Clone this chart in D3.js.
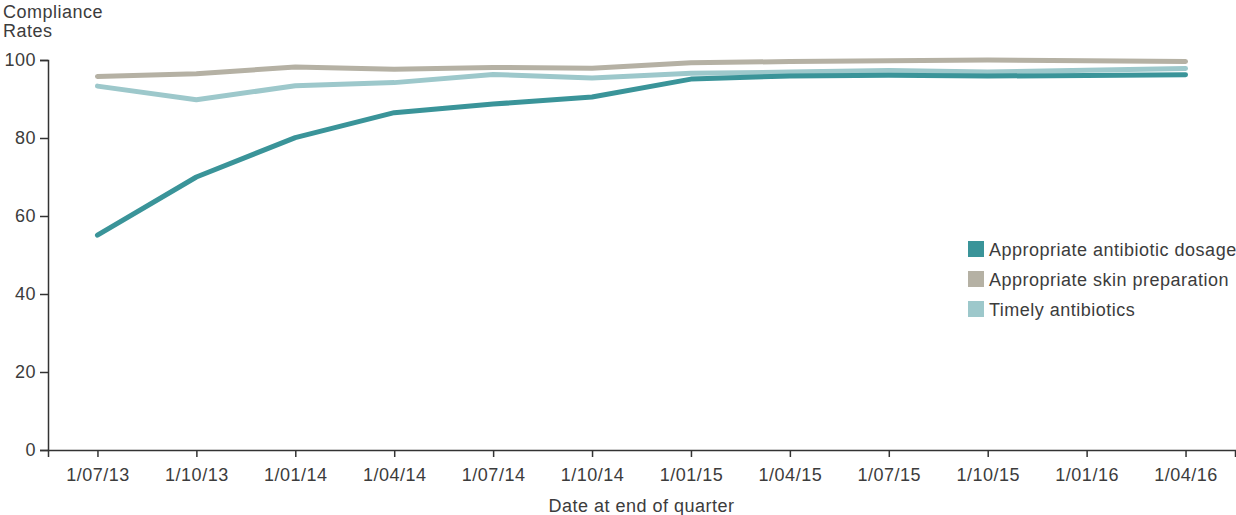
<!DOCTYPE html>
<html>
<head>
<meta charset="utf-8">
<script src="https://cdn.jsdelivr.net/npm/d3@7"></script>
<style>
  html, body { margin: 0; padding: 0; background: #fff; }
  svg { display: block; font-family: "Liberation Sans", Arial, Helvetica, sans-serif; }
  .axis text { fill: #3c3c3c; font-size: 18px; letter-spacing: 0.5px; }
  .axis path, .axis line { stroke: #333; stroke-width: 1.5px; }
  .label { fill: #3c3c3c; font-size: 18px; letter-spacing: 0.5px; }
</style>
</head>
<body>
<svg id="chart" width="1236" height="515"></svg>
<script>
// Quarter-end dates (x categories)
const quarters = ["1/07/13", "1/10/13", "1/01/14", "1/04/14", "1/07/14", "1/10/14",
                  "1/01/15", "1/04/15", "1/07/15", "1/10/15", "1/01/16", "1/04/16"];

// Compliance rates (%) per series
const antibioticDosage = [55.1, 70.0, 80.1, 86.5, 88.7, 90.5, 95.1, 95.9, 96.1, 95.9, 96.0, 96.2];
const skinPreparation  = [95.8, 96.5, 98.2, 97.6, 98.1, 97.9, 99.3, 99.6, 99.8, 100.0, 99.8, 99.6];
const timelyAntibiotics = [93.3, 89.8, 93.4, 94.2, 96.3, 95.4, 96.6, 96.9, 97.3, 96.9, 97.4, 97.8];

const seriesNames = ["Appropriate antibiotic dosage", "Appropriate skin preparation", "Timely antibiotics"];
const seriesColors = ["#3a9499", "#b5b1a4", "#9dc8cb"];
const yTicks = [0, 20, 40, 60, 80, 100];

const series = [
  { name: seriesNames[0], values: antibioticDosage, color: seriesColors[0] },
  { name: seriesNames[1], values: skinPreparation, color: seriesColors[1] },
  { name: seriesNames[2], values: timelyAntibiotics, color: seriesColors[2] }
];

const svg = d3.select("#chart");
const margin = { left: 48, right: 1, top: 60, bottom: 65 };
const W = 1236, H = 515;

const x = d3.scalePoint()
  .domain(quarters)
  .range([margin.left, W - margin.right])
  .padding(0.5);

const y = d3.scaleLinear()
  .domain([0, 100])
  .range([H - margin.bottom, margin.top]);

// Axes
const xAxis = svg.append("g")
  .attr("class", "axis")
  .attr("transform", `translate(0,${y(0)})`)
  .call(d3.axisBottom(x).tickSizeOuter(0).tickSize(7).tickPadding(11));

const yAxis = svg.append("g")
  .attr("class", "axis")
  .attr("transform", `translate(${margin.left},0)`)
  .call(d3.axisLeft(y).tickValues(yTicks).tickSizeOuter(0).tickSize(8).tickPadding(4));

xAxis.selectAll(".tick line").attr("stroke", "#555");

// Lines (drawn bottom-up so lighter lines sit under the dosage line)
const line = d3.line()
  .x((d, i) => x(quarters[i]))
  .y(d => y(d));

const drawOrder = [series[1], series[2], series[0]];
svg.append("g")
  .selectAll("path")
  .data(drawOrder)
  .join("path")
  .attr("d", d => line(d.values))
  .attr("fill", "none")
  .attr("stroke", d => d.color)
  .attr("stroke-width", 5)
  .attr("stroke-linejoin", "round")
  .attr("stroke-linecap", "round");

// Y axis title
const yTitle = svg.append("text").attr("class", "label");
yTitle.append("tspan").attr("x", 3).attr("y", 18).text("Compliance");
yTitle.append("tspan").attr("x", 3).attr("y", 37).text("Rates");

// X axis title
svg.append("text")
  .attr("class", "label")
  .attr("x", (margin.left + W - margin.right) / 2)
  .attr("y", 512)
  .attr("text-anchor", "middle")
  .text("Date at end of quarter");

// Legend
const legend = svg.append("g").attr("transform", "translate(968,241)");
const items = legend.selectAll("g")
  .data(series)
  .join("g")
  .attr("transform", (d, i) => `translate(0,${i * 30})`);
items.append("rect")
  .attr("width", 16)
  .attr("height", 16)
  .attr("fill", d => d.color);
items.append("text")
  .attr("class", "label")
  .attr("x", 21)
  .attr("y", 15)
  .text(d => d.name);
</script>
</body>
</html>
